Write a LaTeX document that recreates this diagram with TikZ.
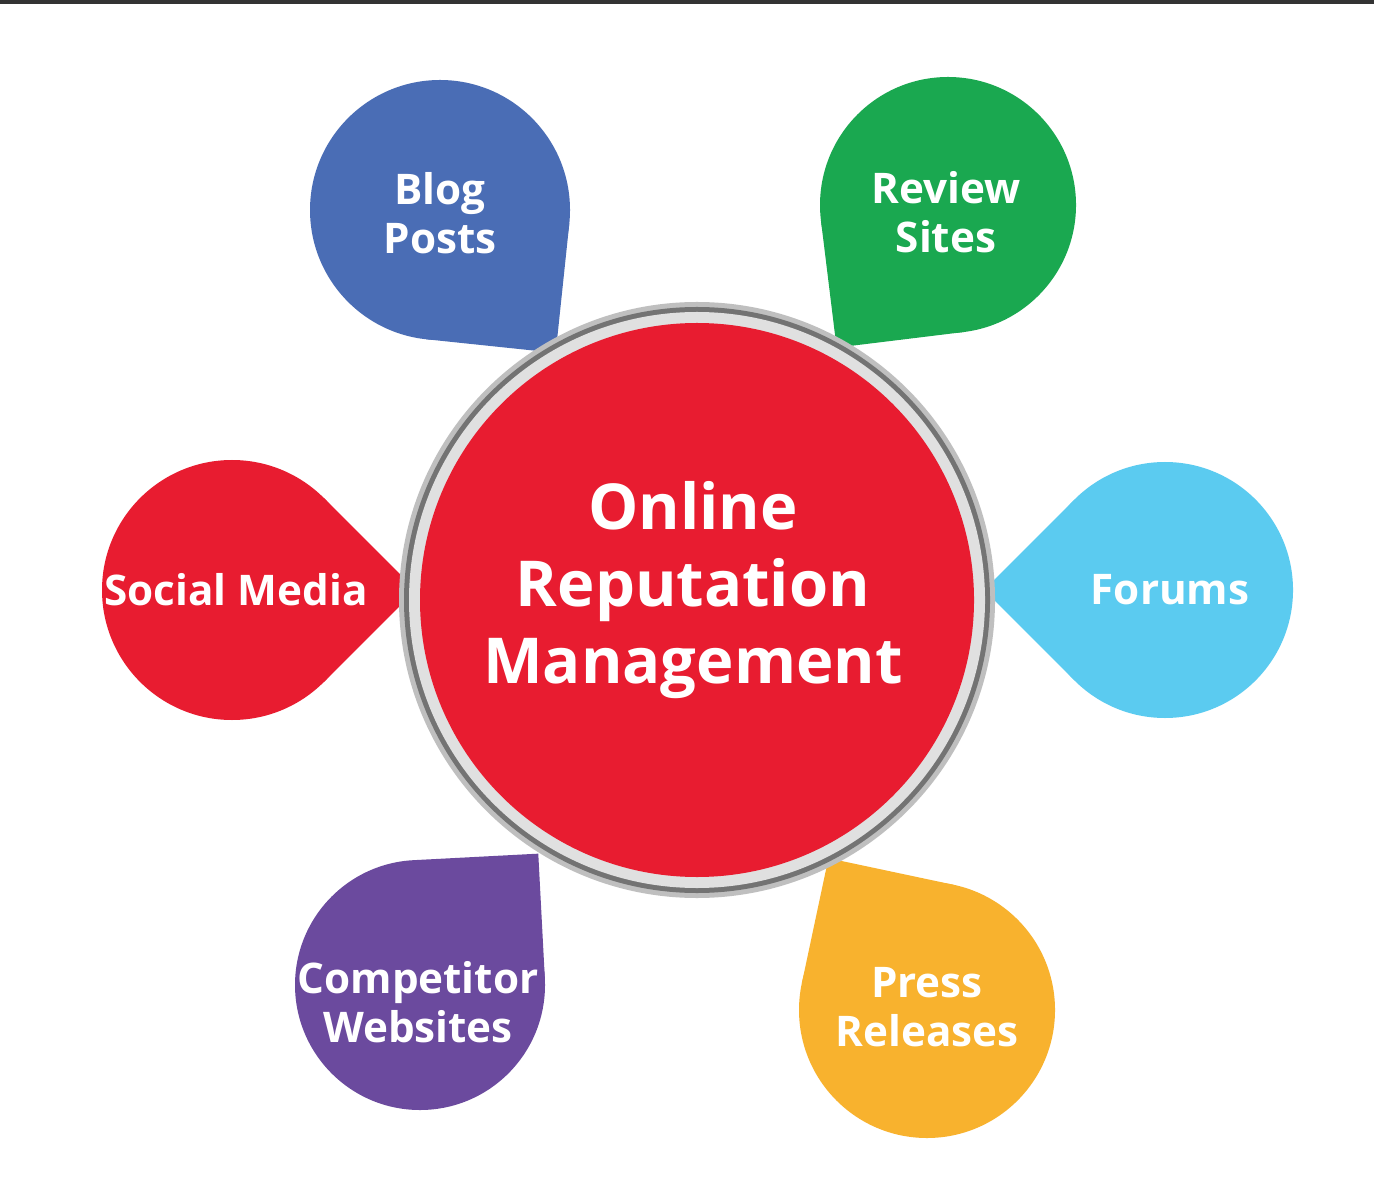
\documentclass[tikz,border=0pt]{standalone}
\usepackage{fontspec}
\setmainfont{Open Sans}
\definecolor{cblue}{HTML}{4A6DB5}
\definecolor{cgreen}{HTML}{1AA850}
\definecolor{cred}{HTML}{E81C30}
\definecolor{ccyan}{HTML}{5BCBF0}
\definecolor{cpurple}{HTML}{6B4A9E}
\definecolor{corange}{HTML}{F8B22E}
\newcommand{\mydrop}[6]{%
  \begin{scope}[shift={(#1,#2)}]
    \fill[#5] (0,0) circle (#3);
    \fill[#5] (0,0) -- ({#4+45}:#3) -- (#4:{#3*1.414}) -- ({#4-45}:#3) -- cycle;
    \node[petal] (#6) at (0,0) {};
  \end{scope}}
\tikzset{petal/.style={inner sep=0pt,minimum size=1pt},
  lbl/.style={text=white,font=\fontsize{12}{14}\selectfont\bfseries,align=center},
  big/.style={text=white,font=\fontsize{18}{22}\selectfont\bfseries,align=center}}
\begin{document}
\begin{tikzpicture}[x=0.01cm,y=-0.01cm]
\useasboundingbox (0,0) rectangle (1374,1180);
\fill[white] (0,0) rectangle (1374,1180);
\draw[black!80,line width=1.5pt] (0,1) -- (1374,1);
\mydrop{440}{210}{130}{51}{cblue}{blog}
\mydrop{948}{205}{128}{128}{cgreen}{review}
\mydrop{232}{590}{130}{0}{cred}{social}
\mydrop{1165}{590}{128}{180}{ccyan}{forums}
\mydrop{420}{985}{125}{-48}{cpurple}{comp}
\mydrop{927}{1010}{128}{-123}{corange}{press}
\fill[black!25] (697,600) circle (298);
\fill[black!55] (697,600) circle (293);
\fill[black!12] (697,600) circle (288);
\fill[cred] (697,600) circle (277);
\node[big] (orm) at (693,590) {Online\\Reputation\\Management};
\node[lbl] at (440,213) {Blog\\Posts};
\node[lbl] at (946,212) {Review\\Sites};
\node[lbl] at (236,590) {Social Media};
\node[lbl] at (1170,590) {Forums};
\node[lbl] at (418,1002) {Competitor\\Websites};
\node[lbl] at (927,1007) {Press\\Releases};
\end{tikzpicture}
\end{document}
